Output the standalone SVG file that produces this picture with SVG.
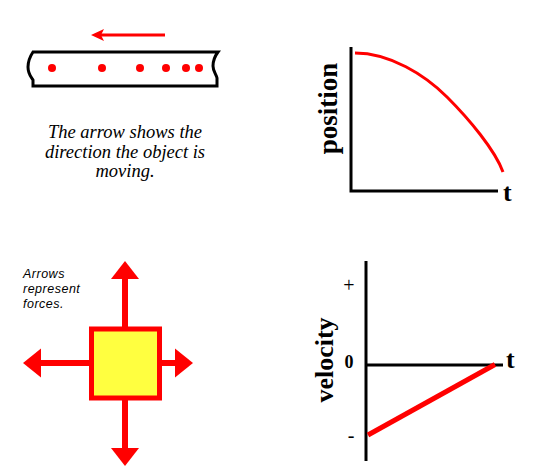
<svg xmlns="http://www.w3.org/2000/svg" width="536" height="476" viewBox="0 0 536 476">
<style>
.ax{stroke:#000;stroke-width:3;fill:none}
.red{stroke:#f00;fill:none}
.lbl{font-family:"Liberation Serif","Times New Roman",serif;font-weight:bold;fill:#000}
.sym{font-family:"Liberation Serif","Times New Roman",serif;font-size:20px;fill:#000;text-anchor:middle}
.cap{font-family:"Liberation Serif","Times New Roman",serif;font-style:italic;font-size:18.5px;fill:#000;text-anchor:middle}
.note{font-family:"Liberation Sans",Arial,sans-serif;font-style:italic;font-size:12.5px;fill:#000;letter-spacing:0.5px}
.dot{fill:#f00}
.frc{fill:#f00}
</style>
<rect width="536" height="476" fill="#fff"/>
<g id="strip">
<path d="M33,52 L218,52 C215,56 213,60 213,66 C213,71 216,74 217,78 L217,86 L33,86 L33,80 C31,77 28,74 28,67 C28,62 29,58 33,52 Z" fill="#fff" stroke="#000" stroke-width="3"/>
<circle class="dot" cx="52" cy="68" r="4"/>
<circle class="dot" cx="102" cy="68" r="4"/>
<circle class="dot" cx="140" cy="68" r="4"/>
<circle class="dot" cx="166" cy="68" r="4"/>
<circle class="dot" cx="186" cy="68" r="4"/>
<circle class="dot" cx="199" cy="68" r="4"/>
</g>
<g id="motion-arrow">
<line x1="165" y1="35" x2="100" y2="35" stroke="#f00" stroke-width="3"/>
<path d="M91,35 L104,29 L101,35 L104,41 Z" fill="#f00"/>
</g>
<g id="caption">
<text class="cap" x="125" y="138">The arrow shows the</text>
<text class="cap" x="125" y="158">direction the object is</text>
<text class="cap" x="125" y="177">moving.</text>
</g>
<g id="position-graph">
<polyline class="ax" points="351,47 351,191 498,191"/>
<path class="red" stroke-width="3" d="M355,53 C390,53 425,75 447,97 C469,119 495,150 503,172"/>
<text class="lbl" font-size="27" transform="translate(337,108.5) rotate(-90)" text-anchor="middle">position</text>
<text class="lbl" font-size="26" x="503" y="201">t</text>
</g>
<g id="forces">
<text class="note" x="23" y="278">Arrows</text>
<text class="note" x="23" y="293">represent</text>
<text class="note" x="23" y="308">forces.</text>
<rect x="91.5" y="329" width="68" height="69" fill="#ffff40" stroke="#f00" stroke-width="5"/>
<rect class="frc" x="122" y="278" width="6" height="49"/>
<path class="frc" d="M125,261 L139,279 L111,279 Z"/>
<rect class="frc" x="122" y="400" width="6" height="49"/>
<path class="frc" d="M125,466 L139,448 L111,448 Z"/>
<rect class="frc" x="40" y="360" width="50" height="6"/>
<path class="frc" d="M23,363 L41,348.5 L41,377.5 Z"/>
<rect class="frc" x="161" y="360" width="15" height="6"/>
<path class="frc" d="M193,363 L175,348.5 L175,377.5 Z"/>
</g>
<g id="velocity-graph">
<line class="ax" x1="366" y1="261" x2="366" y2="461"/>
<line class="ax" x1="366" y1="365" x2="503" y2="365"/>
<line class="red" stroke-width="5" x1="368" y1="435" x2="495" y2="364.5"/>
<text class="lbl" font-size="26" transform="translate(333,360) rotate(-90)" text-anchor="middle">velocity</text>
<text class="lbl" font-size="26" x="506" y="368">t</text>
<text class="sym" x="349" y="292">+</text>
<text class="lbl" x="349" y="368" font-size="18" text-anchor="middle">0</text>
<text class="sym" x="351" y="442">-</text>
</g>
</svg>
